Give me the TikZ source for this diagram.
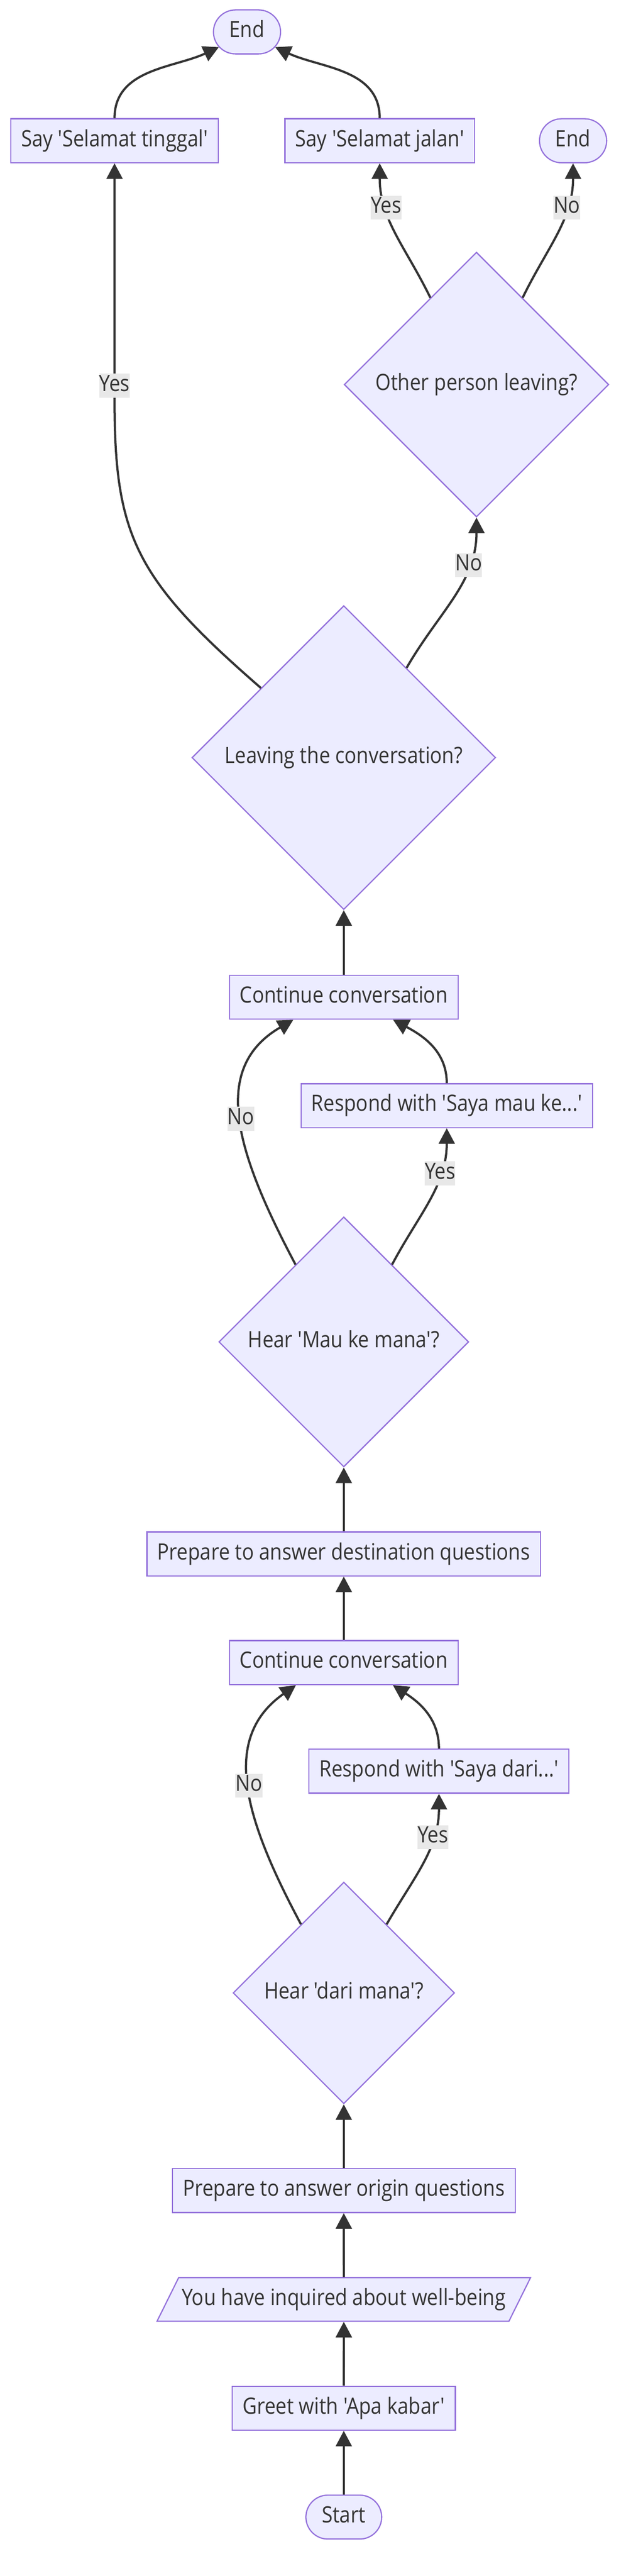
\documentclass[tikz,border=0pt]{standalone}
\usepackage{fontspec}
\newfontfamily\chartfont{Open Sans}[FakeStretch=0.88,Ligatures=TeXOff]
\usetikzlibrary{arrows.meta,shapes.geometric}
\definecolor{nodefill}{HTML}{ECECFF}
\definecolor{nodeline}{HTML}{9370DB}
\definecolor{ink}{HTML}{333333}
\definecolor{lblfill}{HTML}{E8E8E8}

\begin{document}
\begin{tikzpicture}[x=1cm,y=1cm,
	every node/.style={font=\chartfont\fontsize{16}{19}\selectfont,text=ink,text height=0.42cm,text depth=0.14cm},
	box/.style={rectangle,draw=nodeline,fill=nodefill,line width=0.03cm,minimum height=1.10cm,inner xsep=0.26cm},
	term/.style={box,rounded corners=0.55cm,inner xsep=0.40cm},
	io/.style={trapezium,trapezium left angle=63.6,trapezium right angle=116.4,draw=nodeline,fill=nodefill,line width=0.03cm,inner xsep=0.08cm,inner ysep=0.265cm},
	cond/.style={diamond,aspect=1,draw=nodeline,fill=nodefill,line width=0.03cm,inner sep=0pt},
	lbl/.style={fill=lblfill,inner xsep=0pt,inner ysep=0.02cm},
	edge/.style={draw=ink,line width=0.055cm,-{Triangle[length=0.39cm,width=0.40cm]}}]
	\useasboundingbox (0,0) rectangle (15.68,64.50);

	\node[term] (end1) at (6.19,63.70) {End};
	\node[box] (tinggal) at (2.87,60.975) {Say 'Selamat tinggal'};
	\node[box] (jalan) at (9.515,60.975) {Say 'Selamat jalan'};
	\node[term] (end2) at (14.36,60.975) {End};
	\node[cond,minimum size=6.63cm] (other) at (11.94,54.87) {Other person leaving?};
	\node[cond,minimum size=7.61cm] (leave) at (8.615,45.53) {Leaving the conversation?};
	\node[box] (cont1) at (8.615,39.53) {Continue conversation};
	\node[box] (rmau) at (11.195,36.815) {Respond with 'Saya mau ke...'};
	\node[cond,minimum size=6.26cm] (mau) at (8.615,30.90) {Hear 'Mau ke mana'?};
	\node[box] (pdest) at (8.615,25.59) {Prepare to answer destination questions};
	\node[box] (cont2) at (8.615,22.87) {Continue conversation};
	\node[box] (rdari) at (11.00,20.15) {Respond with 'Saya dari...'};
	\node[cond,minimum size=5.55cm] (dari) at (8.615,14.60) {Hear 'dari mana'?};
	\node[box] (porig) at (8.615,9.65) {Prepare to answer origin questions};
	\node[io] (inq) at (8.615,6.925) {You have inquired about well-being};
	\node[box] (greet) at (8.615,4.20) {Greet with 'Apa kabar'};
	\node[term] (start) at (8.615,1.475) {Start};

	\draw[edge] (start) -- (greet);
	\draw[edge] (greet) -- (inq);
	\draw[edge] (inq) -- (porig);
	\draw[edge] (porig) -- (dari);
	\draw[edge] (dari.58) to[out=60,in=-90] node[lbl,pos=0.7]{Yes} (rdari.south);
	\draw[edge] (dari.122) .. controls +(-1.40,2.62) and +(-1.91,-1.34) .. ([xshift=-1.2cm]cont2.south) node[lbl,pos=0.5]{No};
	\draw[edge] (rdari.north) to[out=90,in=-33] ([xshift=1.23cm]cont2.south);
	\draw[edge] (cont2) -- (pdest);
	\draw[edge] (pdest) -- (mau);
	\draw[edge] (mau.58) to[out=62,in=-90] node[lbl,pos=0.7]{Yes} (rmau.south);
	\draw[edge] (mau.122) .. controls +(-1.48,2.79) and +(-2.10,-1.22) .. ([xshift=-1.265cm]cont1.south) node[lbl,pos=0.5]{No};
	\draw[edge] (rmau.north) to[out=90,in=-28] ([xshift=1.235cm]cont1.south);
	\draw[edge] (cont1) -- (leave);
	\draw[edge] (leave.55) to[out=60,in=-90] node[lbl,pos=0.72]{No} (other.south);
	\draw[edge] (leave.140) .. controls +(-3.13,2.72) and +(0,-3.43) .. ([yshift=-5.92cm]tinggal.south) -- node[lbl,pos=0.06]{Yes} (tinggal.south);
	\draw[edge] (other.118) to[out=116,in=-90] node[lbl,pos=0.7]{Yes} (jalan.south);
	\draw[edge] (other.62) to[out=64,in=-90] node[lbl,pos=0.7]{No} (end2.south);
	\draw[edge] (tinggal.north) to[out=90,in=-155] ([xshift=0.15cm]end1.-156);
	\draw[edge] (jalan.north) to[out=90,in=-25] ([xshift=-0.15cm]end1.-24);

\end{tikzpicture}
\end{document}
